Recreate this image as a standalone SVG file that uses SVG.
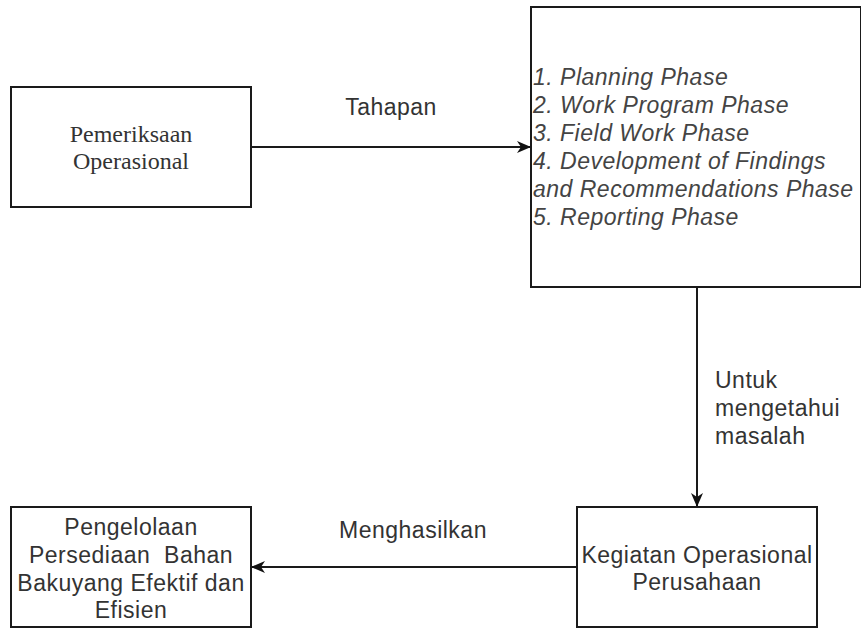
<svg xmlns="http://www.w3.org/2000/svg" width="861" height="629" viewBox="0 0 861 629">
  <style>
    .box { fill: #ffffff; stroke: #1a1a1a; stroke-width: 2; }
    .conn { fill: none; stroke: #1a1a1a; stroke-width: 2; }
    .sans { font-family: "Liberation Sans", Arial, sans-serif; font-size: 23px; fill: #333333; letter-spacing: 0.5px; }
    .ital { font-family: "Liberation Sans", Arial, sans-serif; font-size: 23px; font-style: italic; fill: #444444; letter-spacing: 0.5px; }
    .serif { font-family: "Liberation Serif", "Times New Roman", serif; font-size: 24px; fill: #333333; }
  </style>
  <defs>
    <marker id="arrow" markerUnits="userSpaceOnUse" markerWidth="16" markerHeight="14" refX="14" refY="6" orient="auto">
      <path d="M0,0 L14,6 L0,12 L4,6 z" fill="#111111"/>
    </marker>
  </defs>
  <rect width="861" height="629" fill="#ffffff"/>

  <g id="connectors">
    <path class="conn" d="M251,147 L531,147" marker-end="url(#arrow)"/>
    <path class="conn" d="M697,287 L697,507" marker-end="url(#arrow)"/>
    <path class="conn" d="M577,567 L251,567" marker-end="url(#arrow)"/>
    <text class="sans" x="391" y="115" text-anchor="middle">Tahapan</text>
    <text class="sans" x="715" y="388">Untuk</text>
    <text class="sans" x="715" y="416">mengetahui</text>
    <text class="sans" x="715" y="444">masalah</text>
    <text class="sans" x="413" y="538" text-anchor="middle">Menghasilkan</text>
  </g>

  <g id="pemeriksaan">
    <rect class="box" x="11" y="87" width="240" height="120"/>
    <text class="serif" x="131" y="142" text-anchor="middle">Pemeriksaan</text>
    <text class="serif" x="131" y="169" text-anchor="middle">Operasional</text>
  </g>

  <g id="phases">
    <rect class="box" x="531" y="7" width="330" height="280"/>
    <text class="ital" x="533" y="85">1. Planning Phase</text>
    <text class="ital" x="533" y="113">2. Work Program Phase</text>
    <text class="ital" x="533" y="141">3. Field Work Phase</text>
    <text class="ital" x="533" y="169">4. Development of Findings</text>
    <text class="ital" x="533" y="197">and Recommendations Phase</text>
    <text class="ital" x="533" y="225">5. Reporting Phase</text>
  </g>

  <g id="kegiatan">
    <rect class="box" x="577" y="507" width="240" height="120"/>
    <text class="sans" x="697" y="563" text-anchor="middle">Kegiatan Operasional</text>
    <text class="sans" x="697" y="590" text-anchor="middle">Perusahaan</text>
  </g>

  <g id="pengelolaan">
    <rect class="box" x="11" y="507" width="240" height="120"/>
    <text class="sans" x="131" y="535" text-anchor="middle">Pengelolaan</text>
    <text class="sans" x="131" y="563" text-anchor="middle" xml:space="preserve">Persediaan  Bahan</text>
    <text class="sans" x="131" y="591" text-anchor="middle">Bakuyang Efektif dan</text>
    <text class="sans" x="131" y="618" text-anchor="middle">Efisien</text>
  </g>
</svg>
